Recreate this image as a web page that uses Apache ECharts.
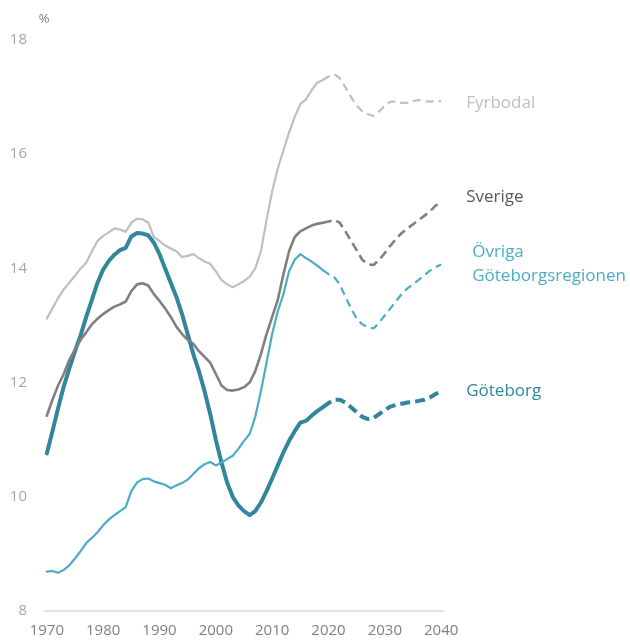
<!DOCTYPE html>
<html><head><meta charset="utf-8">
<script src="https://cdn.jsdelivr.net/npm/echarts@6/dist/echarts.min.js"></script>
<style>html,body{margin:0;padding:0;background:#fff}#c{width:630px;height:641px}</style>
</head><body><div id="c"></div>
<script>
// categories: years 1970..2040
const years = [];
for (let y = 1970; y <= 2040; y++) years.push(String(y));
const lastHistoricalYear = '2019';
const yTicks = [8, 10, 12, 14, 16, 18];
const xTickLabels = ['1970','1980','1990','2000','2010','2020','2030','2040'];

// values 1970..2040 (percent)
const fyrbodal = [13.12,13.3,13.48,13.63,13.75,13.87,14.0,14.1,14.3,14.48,
  14.57,14.63,14.7,14.68,14.64,14.8,14.87,14.86,14.8,14.55,
  14.48,14.4,14.35,14.3,14.2,14.22,14.25,14.18,14.12,14.08,
  13.95,13.8,13.72,13.67,13.72,13.78,13.85,14.0,14.3,14.85,
  15.35,15.75,16.07,16.38,16.65,16.88,16.96,17.12,17.25,17.3,
  17.36,17.4,17.33,17.17,17.0,16.85,16.75,16.7,16.67,16.75,
  16.85,16.92,16.92,16.9,16.9,16.93,16.95,16.93,16.92,16.93,16.93];
const sverige = [11.42,11.7,11.95,12.15,12.4,12.58,12.75,12.88,13.02,13.12,
  13.2,13.27,13.33,13.37,13.42,13.6,13.72,13.74,13.7,13.55,
  13.43,13.3,13.15,12.98,12.85,12.75,12.68,12.55,12.45,12.35,
  12.15,11.95,11.87,11.86,11.88,11.92,12.0,12.2,12.5,12.85,
  13.15,13.45,13.9,14.3,14.55,14.65,14.7,14.75,14.78,14.8,
  14.82,14.85,14.8,14.65,14.48,14.32,14.15,14.07,14.06,14.15,
  14.27,14.4,14.52,14.62,14.7,14.77,14.85,14.92,15.0,15.1,15.16];
const ovriga = [8.69,8.7,8.67,8.72,8.8,8.92,9.05,9.19,9.28,9.38,
  9.5,9.6,9.68,9.75,9.82,10.1,10.25,10.31,10.32,10.27,
  10.24,10.21,10.15,10.2,10.24,10.3,10.4,10.5,10.57,10.61,
  10.55,10.6,10.66,10.72,10.84,10.98,11.1,11.4,11.85,12.35,
  12.85,13.25,13.55,13.95,14.15,14.25,14.18,14.12,14.05,13.97,
  13.9,13.85,13.72,13.5,13.3,13.12,13.02,12.97,12.95,13.05,
  13.18,13.3,13.43,13.55,13.65,13.72,13.8,13.88,13.96,14.02,14.07];
const goteborg = [10.76,11.15,11.55,11.93,12.25,12.55,12.83,13.15,13.45,13.75,
  13.98,14.13,14.24,14.32,14.36,14.56,14.62,14.61,14.58,14.45,
  14.25,14.0,13.75,13.5,13.2,12.85,12.5,12.2,11.85,11.45,
  11.0,10.6,10.25,10.0,9.85,9.75,9.68,9.75,9.9,10.1,
  10.32,10.55,10.78,10.98,11.15,11.3,11.33,11.42,11.5,11.57,
  11.64,11.7,11.7,11.65,11.57,11.48,11.4,11.36,11.38,11.45,
  11.52,11.58,11.61,11.63,11.65,11.66,11.68,11.7,11.74,11.8,11.85];

const regions = [
  {name:'Göteborg', data:goteborg, color:'#31859c', width:4, dash:[10,5], label:'Göteborg', labelColor:'#31859c', off:[0,0]},
  {name:'Övriga Göteborgsregionen', data:ovriga, color:'#4bacc6', width:2.2, dash:[8,5], label:'Övriga\nGöteborgsregionen', labelColor:'#4bacc6', off:[6,0]},
  {name:'Sverige', data:sverige, color:'#808080', width:2.6, dash:[9,5], label:'Sverige', labelColor:'#595959', off:[0,-5]},
  {name:'Fyrbodal', data:fyrbodal, color:'#bfbfbf', width:2.2, dash:[8,5], label:'Fyrbodal', labelColor:'#bfbfbf', off:[0,2]}
];
const splitIdx = years.indexOf(lastHistoricalYear);
const FONT = '"Open Sans", sans-serif';
const series = [];
regions.forEach(r => {
  series.push({
    name: r.name, type:'line', symbol:'none', silent:true,
    data: r.data.map((v,i) => i <= splitIdx ? v : null),
    lineStyle:{color:r.color, width:r.width, join:'round', cap:'round'}
  });
  series.push({
    name: r.name + ' prognos', type:'line', symbol:'none', silent:true,
    data: r.data.map((v,i) => i >= splitIdx ? v : null),
    lineStyle:{color:r.color, width:r.width, type:r.dash},
    endLabel:{show:true, formatter:r.label, color:r.labelColor, fontFamily:FONT, fontSize:17,
      lineHeight:24, distance:25, offset:r.off, align:'left'}
  });
});

const chart = echarts.init(document.getElementById('c'), null, {renderer:'canvas'});
chart.setOption({
  animation:false,
  backgroundColor:'#fff',
  grid:{left:44, right:186, top:40, bottom:30, containLabel:false},
  xAxis:{type:'category', data:years, boundaryGap:true,
    axisLine:{show:true, lineStyle:{color:'#d9d9d9', width:1.5}},
    axisTick:{show:false},
    axisLabel:{interval:(i,v)=>xTickLabels.indexOf(v) >= 0, color:'#7f7f7f', fontFamily:FONT, fontSize:15, margin:12},
    splitLine:{show:false}},
  yAxis:{type:'value', min:yTicks[0], max:yTicks[yTicks.length-1], interval:2,
    name:'%', nameLocation:'end', nameGap:14,
    nameTextStyle:{color:'#7f7f7f', fontFamily:FONT, fontSize:13},
    axisLine:{show:false}, axisTick:{show:false}, splitLine:{show:false},
    axisLabel:{color:'#a6a6a6', fontFamily:FONT, fontSize:15, margin:17}},
  series: series
});
</script></body></html>
